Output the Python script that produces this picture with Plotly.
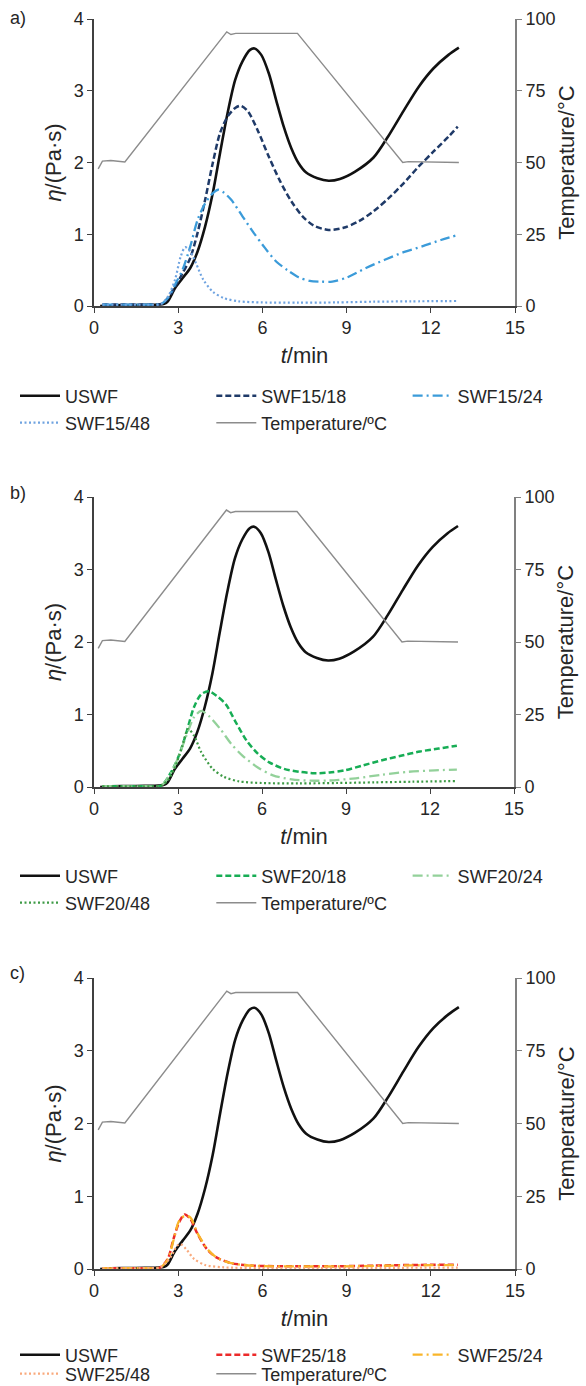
import plotly.graph_objects as go

# ---------------- data ----------------
temp_t = [0.15, 0.3, 0.6, 1.1, 4.73, 4.88, 5.05, 7.25, 11.0, 11.2, 13.0]
temp_v = [47.8, 50.5, 50.7, 50.2, 95.5, 94.6, 95.0, 95.0, 50.0, 50.3, 50.0]

uswf_t = [0.22, 0.6, 1.2, 1.8, 2.3, 2.5, 2.63, 2.89, 3.16, 3.43, 3.69, 3.96, 4.23, 4.49, 4.76, 5.03,
          5.29, 5.56, 5.72, 5.96, 6.23, 6.49, 6.76, 7.03, 7.29, 7.56, 7.96, 8.36, 8.76, 9.29, 9.96,
          10.49, 11.03, 11.56, 12.09, 12.63, 13.0]
uswf_v = [0.0, 0.01, 0.012, 0.015, 0.02, 0.03, 0.065, 0.25, 0.39, 0.53, 0.76, 1.11, 1.57, 2.13, 2.69, 3.15,
          3.41, 3.57, 3.59, 3.50, 3.24, 2.87, 2.50, 2.20, 1.99, 1.86, 1.78, 1.745, 1.77, 1.87, 2.07,
          2.37, 2.72, 3.05, 3.31, 3.50, 3.60]

# panel a
a18_t = [0.3, 1.0, 1.8, 2.4, 2.63, 2.89, 3.16, 3.43, 3.69, 3.96, 4.23, 4.49, 4.76, 5.03, 5.23, 5.49,
         5.83, 6.23, 6.63, 7.03, 7.43, 7.83, 8.36, 8.89, 9.43, 9.96, 10.49, 11.03, 11.56, 12.09,
         12.63, 12.96]
a18_v = [0.02, 0.02, 0.02, 0.03, 0.11, 0.27, 0.46, 0.67, 1.02, 1.48, 1.99, 2.41, 2.64, 2.76, 2.79, 2.71,
         2.45, 2.08, 1.74, 1.46, 1.25, 1.12, 1.06, 1.09, 1.18, 1.32, 1.50, 1.71, 1.94, 2.15,
         2.36, 2.50]
a24_t = [0.3, 1.0, 1.8, 2.4, 2.65, 2.89, 3.16, 3.43, 3.69, 3.96, 4.23, 4.43, 4.63, 4.89, 5.29, 5.69,
         6.09, 6.49, 6.89, 7.29, 7.69, 8.09, 8.49, 9.03, 9.69, 10.36, 11.03, 11.69, 12.36, 12.96]
a24_v = [0.02, 0.02, 0.02, 0.03, 0.12, 0.30, 0.51, 0.83, 1.20, 1.43, 1.57, 1.62, 1.58, 1.48, 1.25, 1.02,
         0.81, 0.62, 0.50, 0.40, 0.35, 0.34, 0.34, 0.40, 0.53, 0.645, 0.75, 0.83, 0.92, 0.99]
a48_t = [0.3, 1.0, 1.8, 2.4, 2.65, 2.89, 3.09, 3.25, 3.43, 3.63, 3.89, 4.23, 4.63, 5.16, 5.96, 7.29,
         8.63, 9.96, 11.29, 12.96]
a48_v = [0.02, 0.02, 0.02, 0.03, 0.14, 0.37, 0.69, 0.82, 0.76, 0.60, 0.37, 0.20, 0.11, 0.065, 0.05, 0.046,
         0.05, 0.06, 0.065, 0.07]

# panel b
b18_t = [0.3, 1.0, 1.8, 2.4, 2.76, 3.03, 3.30, 3.57, 3.83, 4.10, 4.37, 4.71, 5.04, 5.45, 5.85, 6.26,
         6.79, 7.33, 7.87, 8.41, 8.95, 9.62, 10.29, 10.96, 11.64, 12.31, 12.96]
b18_v = [0.01, 0.01, 0.01, 0.02, 0.21, 0.43, 0.75, 1.10, 1.28, 1.32, 1.26, 1.14, 0.91, 0.64, 0.46, 0.34,
         0.25, 0.21, 0.19, 0.20, 0.23, 0.30, 0.37, 0.43, 0.49, 0.53, 0.57]
b24_t = [0.3, 1.0, 1.8, 2.4, 2.76, 3.03, 3.30, 3.57, 3.83, 4.10, 4.51, 4.91, 5.31, 5.85, 6.39, 7.06,
         7.74, 8.41, 9.35, 10.29, 11.23, 12.17, 12.96]
b24_v = [0.01, 0.01, 0.01, 0.02, 0.20, 0.43, 0.71, 0.96, 1.05, 0.98, 0.80, 0.59, 0.43, 0.27, 0.16, 0.105,
         0.087, 0.09, 0.12, 0.17, 0.21, 0.23, 0.24]
b48_t = [0.3, 1.0, 1.8, 2.4, 2.65, 2.89, 3.16, 3.36, 3.57, 3.83, 4.24, 4.64, 5.18, 5.99, 7.33, 8.68,
         10.02, 11.37, 12.96]
b48_v = [0.01, 0.01, 0.01, 0.02, 0.10, 0.27, 0.57, 0.80, 0.71, 0.48, 0.25, 0.14, 0.078, 0.055, 0.05, 0.055,
         0.064, 0.073, 0.082]

# panel c
c18_t = [0.3, 1.0, 1.8, 2.35, 2.63, 2.83, 3.03, 3.23, 3.43, 3.69, 4.03, 4.36, 4.89, 5.69, 7.29, 8.63,
         9.96, 11.29, 12.96]
c18_v = [0.01, 0.01, 0.012, 0.02, 0.14, 0.41, 0.64, 0.75, 0.69, 0.48, 0.27, 0.16, 0.08, 0.046, 0.037, 0.037,
         0.046, 0.055, 0.06]
c24_t = [0.3, 1.0, 1.8, 2.35, 2.63, 2.83, 3.03, 3.23, 3.43, 3.69, 4.03, 4.36, 4.89, 5.69, 7.29, 8.63,
         9.96, 11.29, 12.96]
c24_v = [0.01, 0.01, 0.012, 0.02, 0.13, 0.39, 0.66, 0.73, 0.71, 0.49, 0.28, 0.16, 0.08, 0.045, 0.035, 0.035,
         0.042, 0.05, 0.055]
c48_t = [0.3, 1.0, 1.8, 2.35, 2.55, 2.76, 2.96, 3.09, 3.29, 3.56, 3.96, 4.63, 5.96, 8.0, 10.5, 12.96]
c48_v = [0.01, 0.01, 0.012, 0.02, 0.08, 0.18, 0.32, 0.34, 0.27, 0.14, 0.055, 0.023, 0.014, 0.014, 0.016, 0.02]

x_ticks = [0, 3, 6, 9, 12, 15]
eta_ticks = [0, 1, 2, 3, 4]
temp_ticks = [0, 25, 50, 75, 100]

panels = [
    dict(tag="a)", names=["SWF15/18", "SWF15/24", "SWF15/48"],
         series=[(a18_t, a18_v), (a24_t, a24_v), (a48_t, a48_v)],
         colors=["#1f3a68", "#3b9bd9", "#6fa3e0"]),
    dict(tag="b)", names=["SWF20/18", "SWF20/24", "SWF20/48"],
         series=[(b18_t, b18_v), (b24_t, b24_v), (b48_t, b48_v)],
         colors=["#17ad55", "#93d19a", "#3d9a45"]),
    dict(tag="c)", names=["SWF25/18", "SWF25/24", "SWF25/48"],
         series=[(c18_t, c18_v), (c24_t, c24_v), (c48_t, c48_v)],
         colors=["#ec2a2a", "#f9b52a", "#f9a97c"]),
]

# ---------------- layout geometry (pixels) ----------------
W, H = 586, 1386
FONT = "Liberation Sans, Arial, sans-serif"
FS = 18
TXT = "#262626"
AXL = "#404040"
AXR = "#808080"
plot_px = [(94, 515, 19, 306), (94, 514, 497, 787), (94, 515, 978, 1269)]
legend_rows = [(396, 423), (876, 903), (1355, 1374)]
tag_y = [18, 493, 973]

dashes = ["6px,3px", "10px,4px,2px,4px", "2px,2.5px"]
widths = [2.5, 2.3, 2.2]

fig = go.Figure()
layout = dict(width=W, height=H, margin=dict(l=0, r=0, t=0, b=0, autoexpand=False),
              plot_bgcolor="white", paper_bgcolor="white",
              font=dict(family=FONT, size=FS, color=TXT), showlegend=True)
annotations = []

for i, p in enumerate(panels):
    xa = "x" if i == 0 else f"x{i+1}"
    ya1 = f"y{2*i+1}" if i > 0 else "y"
    ya2 = f"y{2*i+2}"
    leg1 = "legend" if i == 0 else f"legend{2*i+1}"
    leg2 = f"legend{2*i+2}"
    fig.add_trace(go.Scatter(x=temp_t, y=temp_v, name="Temperature/ºC", mode="lines",
                             line=dict(color="#8c8c8c", width=1.4),
                             xaxis=xa, yaxis=ya2, legend=leg2, legendrank=1005))
    fig.add_trace(go.Scatter(x=uswf_t, y=uswf_v, name="USWF", mode="lines",
                             line=dict(color="#111111", width=2.6, shape="spline", smoothing=0.8),
                             xaxis=xa, yaxis=ya1, legend=leg1, legendrank=1001))
    for k in range(3):
        t, v = p["series"][k]
        fig.add_trace(go.Scatter(x=t, y=v, name=p["names"][k], mode="lines",
                                 line=dict(color=p["colors"][k], width=widths[k], dash=dashes[k],
                                           shape="spline", smoothing=0.8),
                                 xaxis=xa, yaxis=ya1, legend=leg1 if k < 2 else leg2,
                                 legendrank=1002 + k))

    x0, x1, y0, y1 = plot_px[i]
    xdom = [x0 / W, x1 / W]
    ydom = [1 - y1 / H, 1 - y0 / H]
    xkey = "xaxis" if i == 0 else f"xaxis{i+1}"
    y1key = "yaxis" if i == 0 else f"yaxis{2*i+1}"
    y2key = f"yaxis{2*i+2}"
    layout[xkey] = dict(domain=xdom, anchor=ya1, range=[0, 15], tickvals=x_ticks,
                        showline=True, linecolor=AXL, linewidth=1.5, ticks="outside",
                        ticklen=5, tickcolor=AXL, showgrid=False, zeroline=False,
                        automargin=False, title=dict(text="<i>t</i>/min", standoff=10))
    layout[y1key] = dict(domain=ydom, anchor=xa, range=[0, 4], tickvals=eta_ticks,
                         showline=True, linecolor=AXL, linewidth=1.5, ticks="outside",
                         ticklen=5, tickcolor=AXL, showgrid=False, zeroline=False,
                         automargin=False, title=dict(text="<i>η</i>/(Pa·s)", standoff=6))
    layout[y2key] = dict(overlaying=ya1, anchor=xa, side="right", range=[0, 100],
                         tickvals=temp_ticks, showline=True, linecolor=AXR, linewidth=2,
                         ticks="outside", ticklen=5, tickcolor=AXR, showgrid=False,
                         zeroline=False, automargin=False,
                         title=dict(text="Temperature/°C", standoff=4))
    r1, r2 = legend_rows[i]
    for key, yc in ((leg1, r1), (leg2, r2)):
        layout[key] = dict(orientation="h", x=15 / W, xanchor="left", y=1 - yc / H,
                           yanchor="middle", entrywidthmode="fraction", entrywidth=0.335,
                           itemwidth=40, bgcolor="rgba(0,0,0,0)", borderwidth=0,
                           font=dict(family=FONT, size=FS, color=TXT), traceorder="normal")
    annotations.append(dict(text=p["tag"], xref="paper", yref="paper", x=8 / W,
                            y=1 - tag_y[i] / H, xanchor="left", yanchor="middle",
                            showarrow=False, font=dict(size=FS, color=TXT)))

layout["annotations"] = annotations
fig.update_layout(**layout)
fig.write_html("out.html", config={"displayModeBar": False},
               post_script="document.body.style.margin='0';document.body.style.overflow='hidden';")
